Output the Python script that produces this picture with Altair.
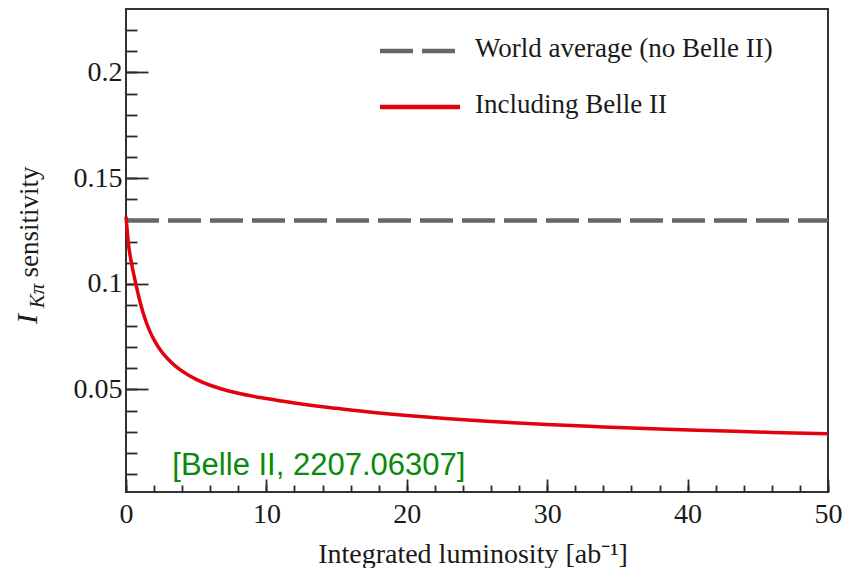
import altair as alt
import pandas as pd

# Data
lumi = [0, 0.2, 0.4, 0.7, 1.0, 1.3, 1.7, 2.0, 2.5, 3.0, 3.5, 4.0, 5.0, 6.0, 7.0, 8.0,
        10, 12, 14, 16, 18, 20, 23, 26, 30, 34, 38, 42, 46, 50]
sens = [0.1318, 0.1175, 0.1095, 0.1000, 0.0915, 0.0845, 0.0775, 0.0735, 0.0682, 0.0643,
        0.0612, 0.0587, 0.0548, 0.0520, 0.0499, 0.0482, 0.0457, 0.0436, 0.0418, 0.0403,
        0.0389, 0.0377, 0.0361, 0.0348, 0.0334, 0.0323, 0.0313, 0.0305, 0.0297, 0.0291]
world_avg = 0.13
x_range = [0, 50]
y_range = [0.0015, 0.23]
x_major = [0, 10, 20, 30, 40, 50]
x_minor = list(range(0, 51, 2))
y_major = [0.05, 0.1, 0.15, 0.2]
y_minor = [round(0.01 * i, 2) for i in range(1, 23)]
legend_labels = ["World average (no Belle II)", "Including Belle II"]
source_note = "[Belle II, 2207.06307]"

W, H = 702, 483
SERIF = "Liberation Serif"
TICK = "#2a2a2a"
TXT = "#1a1a1a"

xs = alt.Scale(domain=x_range, nice=False, zero=False)
ys = alt.Scale(domain=y_range, nice=False, zero=False)

curve_df = pd.DataFrame({"L": lumi, "v": sens})
wa_df = pd.DataFrame({"L": [x_range[0]], "L2": [x_range[1]], "v": [world_avg]})
note_df = pd.DataFrame({"L": [3.3], "v": [0.0138], "t": [source_note]})

label_axis_x = alt.Axis(values=x_major, ticks=False, domain=False, grid=False, title=None,
                        labelFont=SERIF, labelFontSize=28, labelColor=TXT, labelPadding=8,
                        labelFlush=False)
label_axis_y = alt.Axis(values=y_major, ticks=False, domain=False, grid=False, title=None,
                        format=".2~f", labelFont=SERIF, labelFontSize=28, labelColor=TXT,
                        labelPadding=4)

minor_x = alt.Axis(orient="top", offset=-H, values=x_minor, labels=False, domain=False,
                   grid=False, title=None, tickSize=7, tickColor=TICK, tickWidth=1.8)
minor_y = alt.Axis(orient="right", offset=-W, values=y_minor, labels=False, domain=False,
                   grid=False, title=None, tickSize=11, tickColor=TICK, tickWidth=1.8)
major_x = alt.Axis(orient="top", offset=-H, values=x_major, labels=False, domain=False,
                   grid=False, title=None, tickSize=13, tickColor=TICK, tickWidth=1.8)
major_y = alt.Axis(orient="right", offset=-W, values=y_major, labels=False, domain=False,
                   grid=False, title=None, tickSize=22, tickColor=TICK, tickWidth=1.8)

curve = alt.Chart(curve_df).mark_line(color="#e3000f", strokeWidth=3.5, interpolate="monotone").encode(
    x=alt.X("L:Q", scale=xs, axis=label_axis_x),
    y=alt.Y("v:Q", scale=ys, axis=label_axis_y),
)

wa = alt.Chart(wa_df).mark_rule(color="#666666", strokeWidth=4.5, strokeDash=[33, 9]).encode(
    x=alt.X("L:Q", scale=xs, axis=minor_x),
    x2="L2:Q",
    y=alt.Y("v:Q", scale=ys, axis=minor_y),
)

note = alt.Chart(note_df).mark_text(font="Liberation Sans", fontSize=31, color="#0a8a0a",
                                    align="left", baseline="middle").encode(
    x=alt.X("L:Q", scale=xs, axis=major_x),
    y=alt.Y("v:Q", scale=ys, axis=major_y),
    text="t:N",
)

# Legend (drawn manually, top of plot area)
leg_line_df = pd.DataFrame({"k": [0]})
leg_dash = alt.Chart(leg_line_df).mark_rule(color="#666666", strokeWidth=4.5, strokeDash=[33, 9]).encode(
    x=alt.value(254), x2=alt.value(330), y=alt.value(42))
leg_red = alt.Chart(leg_line_df).mark_rule(color="#e3000f", strokeWidth=4.5).encode(
    x=alt.value(254), x2=alt.value(334), y=alt.value(98))
leg_t1 = alt.Chart(leg_line_df).mark_text(font=SERIF, fontSize=27, color=TXT, align="left",
                                          baseline="middle", text=legend_labels[0]).encode(
    x=alt.value(349), y=alt.value(40))
leg_t2 = alt.Chart(leg_line_df).mark_text(font=SERIF, fontSize=27, color=TXT, align="left",
                                          baseline="middle", text=legend_labels[1]).encode(
    x=alt.value(349), y=alt.value(96))

# Axis titles
xtitle = alt.Chart(leg_line_df).mark_text(font=SERIF, fontSize=28, color=TXT, align="center",
                                          baseline="middle", text="Integrated luminosity [ab\u207b\u00b9]").encode(
    x=alt.value(W / 2 - 4), y=alt.value(546))
yt_sens = alt.Chart(leg_line_df).mark_text(font=SERIF, fontSize=27, color=TXT, align="center",
                                           baseline="middle", angle=270, text="sensitivity").encode(
    x=alt.value(-96), y=alt.value(213))
yt_k = alt.Chart(leg_line_df).mark_text(font=SERIF, fontSize=21, fontStyle="italic", color=TXT,
                                        align="center", baseline="middle", angle=270, text="K\u03c0").encode(
    x=alt.value(-88), y=alt.value(287))
yt_i = alt.Chart(leg_line_df).mark_text(font=SERIF, fontSize=30, fontStyle="italic", color=TXT,
                                        align="center", baseline="middle", angle=270, text="I").encode(
    x=alt.value(-98), y=alt.value(310))

chart = alt.layer(
    wa, curve, note, leg_dash, leg_red, leg_t1, leg_t2, xtitle, yt_sens, yt_k, yt_i
).resolve_axis(x="independent", y="independent").properties(
    width=W, height=H,
    autosize=alt.AutoSizeParams(type="none"),
    padding={"left": 118, "top": 1, "right": 14, "bottom": 76},
).configure(
    background="white",
    view=alt.ViewConfig(stroke="#333333", strokeWidth=2),
)

chart.save("out.html", embed_options={"renderer": "svg", "actions": False})
